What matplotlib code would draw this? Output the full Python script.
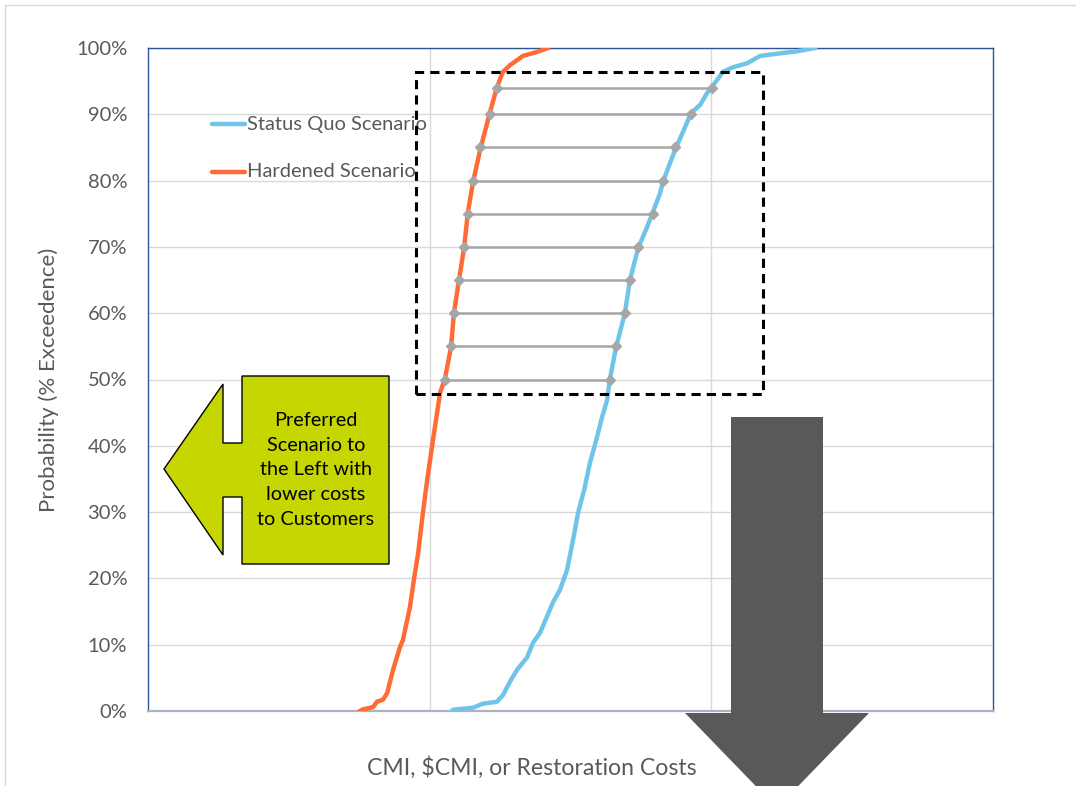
import matplotlib
matplotlib.use("Agg")
import matplotlib.pyplot as plt
from matplotlib.patches import Polygon, Rectangle
from matplotlib.lines import Line2D
from matplotlib.transforms import Affine2D

plt.rcParams['font.family'] = ['Lato', 'DejaVu Sans']

# exceedance curves (x in cost units, y in % probability)
hardened_x = [0.753, 0.760, 0.799, 0.813, 0.834, 0.849, 0.870, 0.895, 0.905, 0.930,
              0.944, 0.959, 0.976, 0.991, 1.008, 1.026, 1.037, 1.054, 1.076, 1.086,
              1.104, 1.122, 1.136, 1.154, 1.179, 1.214, 1.239, 1.260, 1.285, 1.331,
              1.381, 1.420]
hardened_y = [0, 0.2, 0.6, 1.4, 1.7, 2.7, 6.2, 9.7, 10.7, 15.7,
              19.8, 23.8, 29.9, 34.8, 39.8, 44.9, 48.0, 50.1, 54.9, 60.0,
              65.0, 69.8, 75.3, 79.8, 84.6, 90.3, 94.1, 96.4, 97.4, 98.8,
              99.4, 100]

status_x = [1.079, 1.083, 1.154, 1.189, 1.239, 1.260, 1.285, 1.310, 1.346, 1.367,
            1.392, 1.438, 1.463, 1.488, 1.509, 1.527, 1.551, 1.569, 1.594, 1.612,
            1.630, 1.640, 1.662, 1.693, 1.711, 1.740, 1.772, 1.793, 1.818, 1.828,
            1.871, 1.899, 1.928, 1.960, 1.985, 2.002, 2.041, 2.077, 2.127, 2.173,
            2.244, 2.304, 2.368]
status_y = [0, 0.2, 0.5, 1.1, 1.4, 2.4, 4.4, 6.2, 8.1, 10.3,
            11.8, 16.4, 18.3, 21.3, 25.8, 29.9, 33.8, 37.4, 41.3, 44.3,
            46.9, 50.1, 54.9, 60.0, 65.0, 69.8, 73.0, 75.3, 78.1, 79.8,
            84.6, 87.3, 90.2, 91.4, 93.2, 94.1, 96.4, 97.1, 97.7, 98.8,
            99.2, 99.5, 100]

# horizontal gaps between the two scenarios
gap_levels = [50, 55, 60, 65, 70, 75, 80, 85, 90, 94]
gap_hardened = [1.054, 1.076, 1.086, 1.104, 1.122, 1.136, 1.154, 1.179, 1.214, 1.239]
gap_status = [1.640, 1.662, 1.693, 1.711, 1.740, 1.793, 1.828, 1.871, 1.928, 2.002]

blue = '#71C4E9'
orange = '#FF6B35'
grey_txt = '#595959'

fig = plt.figure(figsize=(10.76, 7.86), dpi=100)
ax = fig.add_axes([148/1076, 75/786, 845/1076, 663/786])
ax.set_xlim(0, 3)
ax.set_ylim(0, 100)
ax.set_xticks([1, 2])
ax.set_xticklabels([])
ax.set_yticks(range(0, 101, 10))
ax.set_yticklabels(['%d%%' % v for v in range(0, 101, 10)], color=grey_txt, fontsize=14.5)
ax.tick_params(length=0)
ax.tick_params(axis='y', pad=15)
ax.grid(True, color='#D9D9D9', lw=1)
ax.set_axisbelow(True)
for s in ['top', 'right', 'left']:
    ax.spines[s].set_color('#2F5597')
    ax.spines[s].set_linewidth(1)
ax.spines['bottom'].set_color('#A9B3C1')
ax.spines['bottom'].set_linewidth(1.6)

ax.plot(status_x, status_y, color=blue, lw=3.2, zorder=3)
ax.plot(hardened_x, hardened_y, color=orange, lw=3.2, zorder=3)

for lv, h, s in zip(gap_levels, gap_hardened, gap_status):
    ax.plot([h, s], [lv, lv], color='#A6A6A6', lw=1.8, marker='D', ms=5,
            markeredgecolor='#A6A6A6', zorder=4)

# legend drawn inside the plot
ax.plot([0.227, 0.344], [88.5, 88.5], color=blue, lw=3.2, solid_capstyle='round')
ax.plot([0.227, 0.344], [81.3, 81.3], color=orange, lw=3.2, solid_capstyle='round')
ax.text(0.351, 88.5, 'Status Quo Scenario', color=grey_txt, fontsize=14.5, va='center')
ax.text(0.351, 81.3, 'Hardened Scenario', color=grey_txt, fontsize=14.5, va='center')

# dashed region of interest
ax.add_patch(Rectangle((0.951, 47.8), 2.183 - 0.951, 96.4 - 47.8, fill=False,
                       ec='black', lw=2.2, ls=(0, (3, 2)), zorder=5))

ax.set_ylabel('Probability (% Exceedence)', color=grey_txt, fontsize=16, labelpad=12)
ax.set_xlabel('CMI, $CMI, or Restoration Costs', color=grey_txt, fontsize=16.6)
ax.xaxis.set_label_coords(0.4544, -0.068)

# pixel coordinates for the shapes
px = Affine2D().scale(1/1076, -1/786).translate(0, 1) + fig.transFigure

green_arrow = [(164, 469), (223, 384), (223, 443), (242, 443), (242, 376), (389, 376),
               (389, 564), (242, 564), (242, 497), (223, 497), (223, 555)]
fig.patches.append(Polygon(green_arrow, closed=True, fc='#C5D600', ec='black', lw=1,
                           transform=px, zorder=6))
fig.text(316 / 1076, 1 - 470 / 786,
         'Preferred\nScenario to\nthe Left with\nlower costs\nto Customers',
         ha='center', va='center', fontsize=14.3, color='black', linespacing=1.55, zorder=7)

down_arrow = [(731, 417), (823, 417), (823, 713), (869, 713), (777, 808), (685, 713), (731, 713)]
fig.patches.append(Polygon(down_arrow, closed=True, fc='#595959', ec='none',
                           transform=px, zorder=6))

# thin frame around the chart
fig.lines.append(Line2D([5, 5], [5, 800], color='#D9D9D9', lw=1, transform=px))
fig.lines.append(Line2D([5, 1080], [5, 5], color='#D9D9D9', lw=1, transform=px))

fig.savefig('out.png', dpi=100)
